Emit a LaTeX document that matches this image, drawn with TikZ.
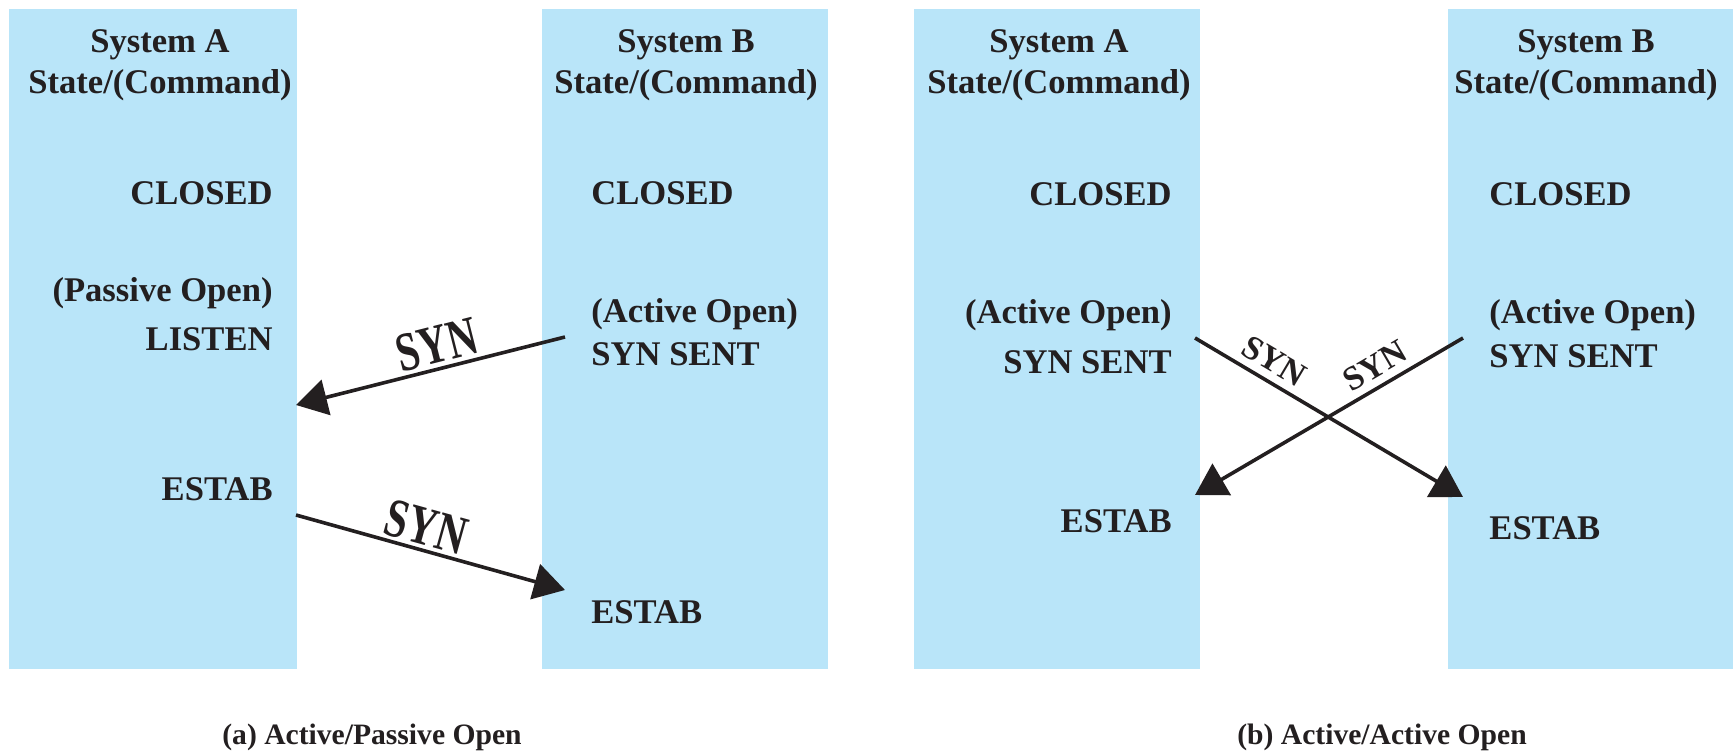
\documentclass[tikz,border=0pt]{standalone}
\usepackage{fontspec}
\setmainfont{Liberation Serif}
\usetikzlibrary{arrows.meta}
\definecolor{boxblue}{RGB}{185,229,249}
\definecolor{ink}{RGB}{35,31,32}
\begin{document}
\begin{tikzpicture}[x=0.5pt,y=-0.5pt,
  lbl/.style={inner sep=0pt, font=\fontsize{17.3pt}{20pt}\selectfont\bfseries, text=ink},
  syna/.style={inner sep=0pt, font=\fontsize{20.5pt}{24pt}\selectfont\bfseries, text=ink},
  synb/.style={inner sep=0pt, font=\fontsize{17pt}{20pt}\selectfont\bfseries, text=ink},
  captxt/.style={inner sep=0pt, font=\fontsize{14.8pt}{18pt}\selectfont\bfseries, text=ink},
  msg/.style={draw=ink, line width=1.8pt, -{Triangle[length=15.5pt,width=18pt]}},
  colbox/.style={fill=boxblue}]
\useasboundingbox (0,0) rectangle (1733,755);
% columns
\fill[colbox] (9,9) rectangle (297,669);
\fill[colbox] (542,9) rectangle (828,669);
\fill[colbox] (914,9) rectangle (1200,669);
\fill[colbox] (1448,9) rectangle (1733,669);
% ---------- (a) ----------
\node[lbl, anchor=base] (aAh1) at (160,52) {System A};
\node[lbl, anchor=base] (aAh2) at (160,93) {State/(Command)};
\node[lbl, anchor=base east] (aAc) at (273,204) {CLOSED};
\node[lbl, anchor=base east] (aAp) at (273,301) {(Passive Open)};
\node[lbl, anchor=base east] (aAl) at (273,350) {LISTEN};
\node[lbl, anchor=base east] (aAe) at (273,500) {ESTAB};
\node[lbl, anchor=base] (aBh1) at (686,52) {System B};
\node[lbl, anchor=base] (aBh2) at (686,93) {State/(Command)};
\node[lbl, anchor=base west] (aBc) at (591,204) {CLOSED};
\node[lbl, anchor=base west] (aBa) at (591,322) {(Active Open)};
\node[lbl, anchor=base west] (aBs) at (591,365) {SYN SENT};
\node[lbl, anchor=base west] (aBe) at (591,623) {ESTAB};
\coordinate (a1s) at (565,337);
\coordinate (a1t) at (296,405);
\coordinate (a2s) at (296,515);
\coordinate (a2t) at (565,590);
\draw[msg] (a1s) -- (a1t);
\draw[msg] (a2s) -- (a2t);
\node[syna, rotate=14.2] (aSyn1) at (437,345) {\scalebox{1}[1.35]{SYN}};
\node[syna, rotate=-15.6] (aSyn2) at (426,527) {\scalebox{1}[1.35]{SYN}};
\node[captxt, anchor=base] (capa) at (372,744) {(a) Active/Passive Open};
% ---------- (b) ----------
\node[lbl, anchor=base] (bAh1) at (1059,52) {System A};
\node[lbl, anchor=base] (bAh2) at (1059,93) {State/(Command)};
\node[lbl, anchor=base east] (bAc) at (1172,205) {CLOSED};
\node[lbl, anchor=base east] (bAa) at (1172,323) {(Active Open)};
\node[lbl, anchor=base east] (bAs) at (1172,373) {SYN SENT};
\node[lbl, anchor=base east] (bAe) at (1172,532) {ESTAB};
\node[lbl, anchor=base] (bBh1) at (1586,52) {System B};
\node[lbl, anchor=base] (bBh2) at (1586,93) {State/(Command)};
\node[lbl, anchor=base west] (bBc) at (1489,205) {CLOSED};
\node[lbl, anchor=base west] (bBa) at (1489,323) {(Active Open)};
\node[lbl, anchor=base west] (bBs) at (1489,367) {SYN SENT};
\node[lbl, anchor=base west] (bBe) at (1489,539) {ESTAB};
\coordinate (b1s) at (1195,338);
\coordinate (b1t) at (1463,497);
\coordinate (b2s) at (1463,338);
\coordinate (b2t) at (1195,495);
\draw[msg] (b1s) -- (b1t);
\draw[msg] (b2s) -- (b2t);
\node[synb, rotate=-30.7] (bSyn1) at (1274,361) {SYN};
\node[synb, rotate=30.4] (bSyn2) at (1375,366) {SYN};
\node[captxt, anchor=base] (capb) at (1382,744) {(b) Active/Active Open};
\end{tikzpicture}
\end{document}
